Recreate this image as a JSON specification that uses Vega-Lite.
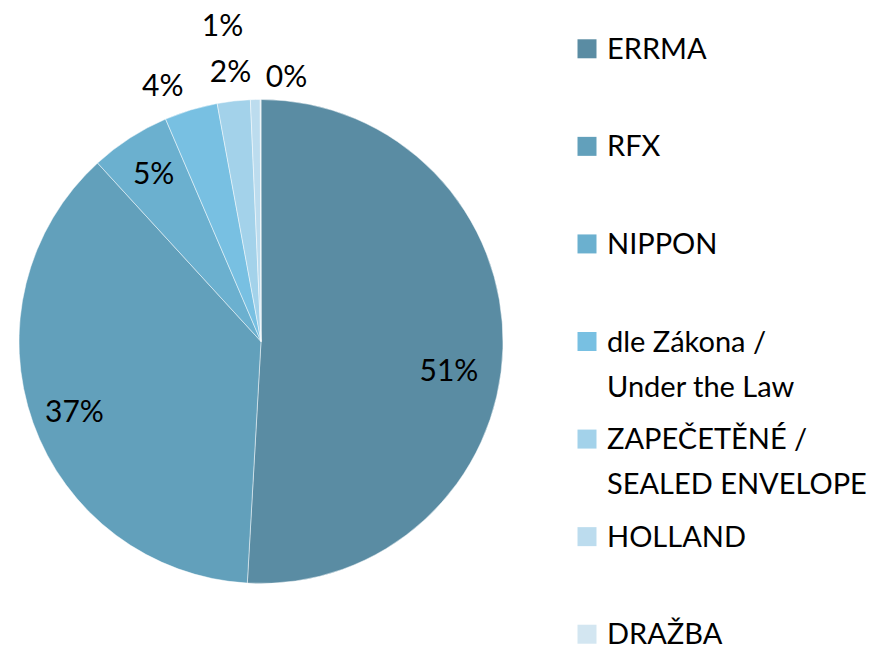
{
  "$schema": "https://vega.github.io/schema/vega-lite/v6.json",
  "padding": 0,
  "background": "white",
  "config": {"view": {"stroke": null}, "font": "Lato"},
  "data": {
    "values": [
      {"rank": 1, "category": "ERRMA", "share": 0.509},
      {"rank": 2, "category": "RFX", "share": 0.373},
      {"rank": 3, "category": "NIPPON", "share": 0.0535},
      {"rank": 4, "category": "dle Zákona /\nUnder the Law", "share": 0.0355},
      {"rank": 5, "category": "ZAPEČETĚNÉ /\nSEALED ENVELOPE", "share": 0.022},
      {"rank": 6, "category": "HOLLAND", "share": 0.0065},
      {"rank": 7, "category": "DRAŽBA", "share": 0.0005}
    ]
  },
  "spacing": 55,
  "hconcat": [
    {
      "width": 522,
      "height": 683,
      "encoding": {
        "theta": {"field": "share", "type": "quantitative", "stack": true},
        "order": {"field": "rank", "type": "quantitative"}
      },
      "layer": [
        {
          "mark": {"type": "arc", "outerRadius": 242, "stroke": "#ffffff", "strokeWidth": 0.8, "strokeOpacity": 0.6},
          "encoding": {
            "color": {
              "field": "category",
              "type": "nominal",
              "scale": {
                "domain": ["ERRMA", "RFX", "NIPPON", "dle Zákona /\nUnder the Law", "ZAPEČETĚNÉ /\nSEALED ENVELOPE", "HOLLAND", "DRAŽBA"],
                "range": ["#5a8ca3", "#62a0bb", "#6bb0cf", "#78c0e2", "#a3d2ea", "#bcdcee", "#d3e6f1"]
              },
              "legend": null
            }
          }
        },
        {
          "mark": {
            "type": "text",
            "fontSize": 30,
            "font": "Lato",
            "fill": "#000000",
            "baseline": "middle",
            "radius": {"expr": "datum.share < 0.003 ? 264 : datum.share < 0.01 ? 317 : datum.share < 0.045 ? 270 : 198"},
            "dx": {"expr": "datum.rank == 7 ? 26 : datum.rank == 6 ? -31 : datum.rank == 4 ? -20 : datum.rank == 1 ? -10 : 0"},
            "dy": {"expr": "datum.rank == 1 ? 25 : datum.rank == 4 ? 4 : datum.rank == 2 ? 5 : datum.rank == 6 ? 2 : 0"}
          },
          "encoding": {
            "detail": {"field": "category", "type": "nominal"},
            "text": {"field": "share", "type": "quantitative", "format": ".0%"}
          }
        }
      ]
    },
    {
      "width": 20,
      "height": 683,
      "encoding": {
        "y": {
          "field": "category",
          "type": "nominal",
          "sort": {"field": "rank", "op": "min"},
          "scale": {"type": "point", "padding": 0.5},
          "axis": null
        }
      },
      "layer": [
        {
          "mark": {"type": "square", "size": 361, "filled": true, "opacity": 1},
          "encoding": {
            "color": {"field": "category", "type": "nominal", "legend": null}
          }
        },
        {
          "mark": {
            "type": "text",
            "align": "left",
            "baseline": "alphabetic",
            "dx": 20,
            "dy": 10,
            "fontSize": 29,
            "font": "Lato",
            "fill": "#000000",
            "lineBreak": "\n",
            "lineHeight": 45
          },
          "encoding": {"text": {"field": "category", "type": "nominal"}}
        }
      ]
    }
  ]
}
